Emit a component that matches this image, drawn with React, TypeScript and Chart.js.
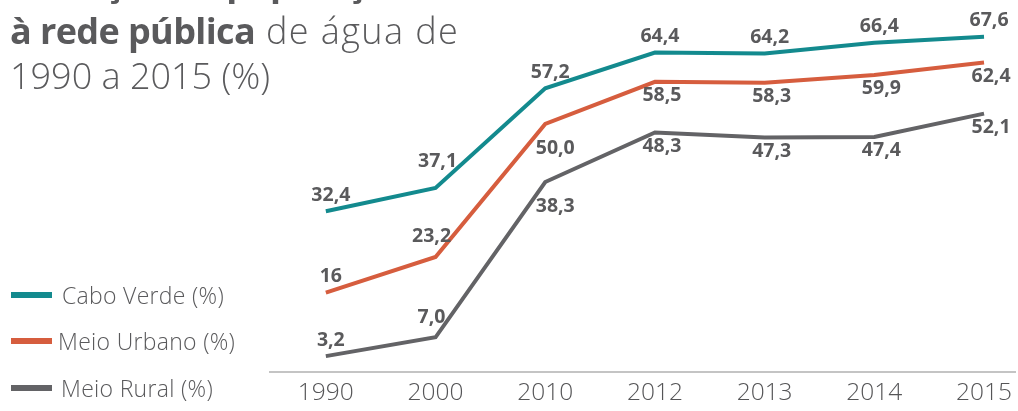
import React, { useEffect, useRef } from "react";
import { Chart, registerables } from "chart.js";

Chart.register(...registerables);

const years = ["1990", "2000", "2010", "2012", "2013", "2014", "2015"];
const caboVerde = [32.4, 37.1, 57.2, 64.4, 64.2, 66.4, 67.6];
const meioUrbano = [16, 23.2, 50.0, 58.5, 58.3, 59.9, 62.4];
const meioRural = [3.2, 7.0, 38.3, 48.3, 47.3, 47.4, 52.1];

const TEAL = "#138a8e";
const ORANGE = "#d65d3e";
const GRAY = "#636366";
const TEXT = "#5a5a5c";
const FONT = "'Open Sans', 'DejaVu Sans', sans-serif";

const OFFSETS: Record<string, [number, number]> = {
  a: [5, -16],
  at: [2, -27],
  al: [-4, -20],
  b: [7, 14],
  br: [10, 24],
};

const valueLabels = {
  id: "valueLabels",
  afterDatasetsDraw(chart: any) {
    const ctx = chart.ctx;
    ctx.save();
    ctx.font = `bold 19.5px ${FONT}`;
    ctx.fillStyle = TEXT;
    ctx.textAlign = "center";
    ctx.textBaseline = "middle";
    chart.data.datasets.forEach((ds: any, di: number) => {
      const meta = chart.getDatasetMeta(di);
      meta.data.forEach((pt: any, i: number) => {
        const v = ds.data[i].y;
        const dec = ds.labelDecimals ? ds.labelDecimals[i] : 1;
        const txt = v.toFixed(dec).replace(".", ",");
        const [dx, dy] = OFFSETS[ds.labelPos[i]];
        ctx.fillText(txt, pt.x + dx, pt.y + dy);
      });
    });
    ctx.restore();
  },
};

function toPoints(vals: number[]) {
  return vals.map((v, i) => ({ x: i, y: v }));
}

export default function App() {
  const ref = useRef<HTMLCanvasElement>(null);

  useEffect(() => {
    document.body.style.margin = "0";
    const chart = new Chart(ref.current!, {
      type: "line",
      data: {
        datasets: [
          {
            label: "Cabo Verde (%)",
            data: toPoints(caboVerde),
            borderColor: TEAL,
            backgroundColor: TEAL,
            borderWidth: 4,
            pointRadius: 0,
            tension: 0,
            labelPos: ["a", "at", "a", "a", "a", "a", "a"],
          } as any,
          {
            label: "Meio Urbano (%)",
            data: toPoints(meioUrbano),
            borderColor: ORANGE,
            backgroundColor: ORANGE,
            borderWidth: 4,
            pointRadius: 0,
            tension: 0,
            labelPos: ["a", "al", "br", "b", "b", "b", "b"],
            labelDecimals: [0, 1, 1, 1, 1, 1, 1],
          } as any,
          {
            label: "Meio Rural (%)",
            data: toPoints(meioRural),
            borderColor: GRAY,
            backgroundColor: GRAY,
            borderWidth: 4,
            pointRadius: 0,
            tension: 0,
            labelPos: ["a", "al", "br", "b", "b", "b", "b"],
          } as any,
        ],
      },
      options: {
        animation: false,
        responsive: false,
        maintainAspectRatio: false,
        layout: { padding: { left: 270, right: 0, top: 0, bottom: 0 } },
        plugins: {
          legend: { display: false },
          tooltip: { enabled: false },
          title: { display: false },
        },
        scales: {
          x: {
            type: "linear",
            min: -0.509,
            max: 6.291,
            afterBuildTicks: (s: any) => {
              s.ticks = years.map((_, i) => ({ value: i }));
            },
            afterFit: (s: any) => {
              s.height = 39;
            },
            ticks: {
              callback: (_v: any, i: number) => years[i],
              autoSkip: false,
              maxRotation: 0,
              padding: 6,
              color: "#555557",
              font: { family: FONT, size: 24.5, weight: 300 as any },
            },
            grid: { display: false, drawTicks: false },
            border: { display: true, color: "#c4c4c4", width: 2 },
          },
          y: {
            display: false,
            min: 0,
            max: 75,
          },
        },
      },
      plugins: [valueLabels],
    });
    return () => chart.destroy();
  }, []);

  const titleLine = (top: number, children: React.ReactNode) => (
    <div
      style={{
        position: "absolute",
        left: 10,
        top,
        fontFamily: FONT,
        fontSize: 36,
        lineHeight: "36px",
        color: TEXT,
        whiteSpace: "nowrap",
        fontWeight: 400,
      }}
    >
      {children}
    </div>
  );

  const legendItem = (top: number, textLeft: number, color: string, label: string) => (
    <div style={{ position: "absolute", left: 0, top, width: 260, height: 30 }}>
      <div
        style={{
          position: "absolute",
          left: 11,
          top: 12,
          width: 41,
          height: 6,
          background: color,
        }}
      />
      <div
        style={{
          position: "absolute",
          left: textLeft,
          top: 0,
          fontFamily: FONT,
          fontSize: 23,
          lineHeight: "30px",
          color: TEXT,
          whiteSpace: "nowrap",
          fontWeight: 300,
          letterSpacing: "0.3px",
        }}
      >
        {label}
      </div>
    </div>
  );

  return (
    <div
      style={{
        position: "fixed",
        left: 0,
        top: 0,
        width: 1018,
        height: 411,
        overflow: "hidden",
        background: "#fff",
      }}
    >
      <canvas ref={ref} width={1018} height={411} style={{ position: "absolute", left: 0, top: 0 }} />
      {titleLine(-36, <b style={{ letterSpacing: "-0.6px" }}>Evolução da população</b>)}
      {titleLine(
        13,
        <>
          <b style={{ letterSpacing: "-0.6px" }}>à rede pública</b>
          <span style={{ fontWeight: 300, letterSpacing: "1.4px" }}> de água de</span>
        </>
      )}
      {titleLine(58, <span style={{ fontWeight: 300 }}>1990 a 2015 (%)</span>)}
      {legendItem(280, 62, TEAL, "Cabo Verde (%)")}
      {legendItem(326, 58, ORANGE, "Meio Urbano (%)")}
      {legendItem(373, 61, GRAY, "Meio Rural (%)")}
    </div>
  );
}
